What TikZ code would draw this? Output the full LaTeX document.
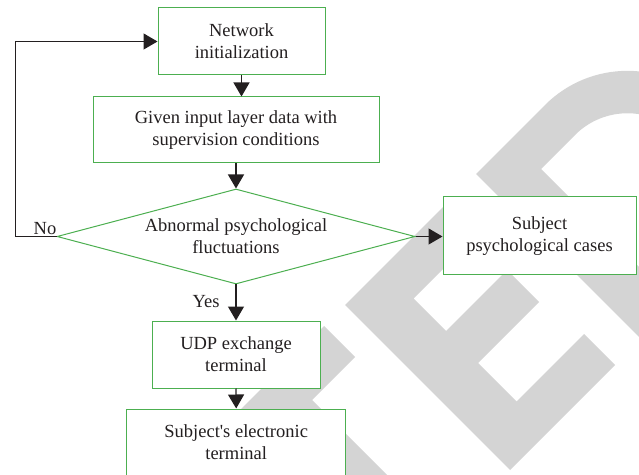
\documentclass[tikz,border=0pt]{standalone}
\usepackage{fontspec}
\setmainfont{Liberation Serif}
\usetikzlibrary{arrows.meta,shapes.geometric}

\definecolor{boxgreen}{RGB}{76,175,80}
\definecolor{inkdark}{RGB}{35,31,32}
\definecolor{markgray}{RGB}{212,212,212}

\begin{document}
\begin{tikzpicture}[x=1pt,y=1pt,
  txt/.style={font=\fontsize{18.5}{22}\selectfont, text=inkdark, align=center},
  procbox/.style={txt, draw=boxgreen, line width=1pt, fill=white, inner sep=0pt},
  decision/.style={txt, diamond, draw=boxgreen, line width=1pt, fill=white,
    inner sep=0pt, aspect=3.77},
  conn/.style={draw=inkdark, line width=1.3pt,
    -{Triangle[length=14pt,width=16pt]}},
  lbl/.style={txt, inner sep=0pt}]

\useasboundingbox (0,0) rectangle (639,474);
\clip (0,0) rectangle (639,474);

% watermark letters T, E, D, set in a frame turned by 45 degrees
\begin{scope}[cm={0.5,0.5,0.5,-0.5,(0,474)}]
  \fill[markgray] (-244,650) -- (-2,650) -- (-2,712) -- (-88,712) -- (-88,980)
    -- (-158,980) -- (-158,712) -- (-244,712) -- cycle;
  \fill[markgray] (40,650) -- (250,650) -- (250,712) -- (115,712) -- (115,777)
    -- (237,777) -- (237,841) -- (115,841) -- (115,918) -- (250,918)
    -- (250,980) -- (40,980) -- cycle;
  \fill[markgray, even odd rule]
    (302,650) -- (440,650) arc[start angle=-90, end angle=90, radius=165]
    -- (302,980) -- cycle
    (372,710) -- (440,710) arc[start angle=-90, end angle=90, radius=105]
    -- (372,920) -- cycle;
\end{scope}

% process steps
\node[procbox, minimum width=167, minimum height=67] (net) at (241.5,432.5)
  {Network\\initialization};
\node[procbox, minimum width=286, minimum height=66] (given) at (236,344)
  {Given input layer data with\\supervision conditions};
\node[decision, minimum width=358, minimum height=95] (abn) at (236,237.5)
  {Abnormal psychological\\fluctuations};
\node[procbox, minimum width=193, minimum height=78] (subj) at (539.5,238)
  {Subject\\psychological cases};
\node[procbox, minimum width=168, minimum height=67] (udp) at (236,119.5)
  {UDP exchange\\terminal};
\node[procbox, minimum width=219, minimum height=67] (elec) at (236.2,31.5)
  {Subject\textquotesingle s electronic\\terminal};

% branch labels
\node[lbl] (lblno) at (45,245) {No};
\node[lbl] (lblyes) at (206,172) {Yes};

% connectors
\coordinate (loop) at (15.7,237.5);
\draw[conn] (net.south) -- (net.south |- given.north);
\draw[conn] (given.south) -- (given.south |- abn.north);
\draw[conn] (abn.west) -- (loop) |- (net.west);
\draw[conn] (abn.east) -- (abn.east -| subj.west);
\draw[conn] (abn.south) -- (udp.north);
\draw[conn] (udp.south) -- (elec.north);
\end{tikzpicture}
\end{document}
